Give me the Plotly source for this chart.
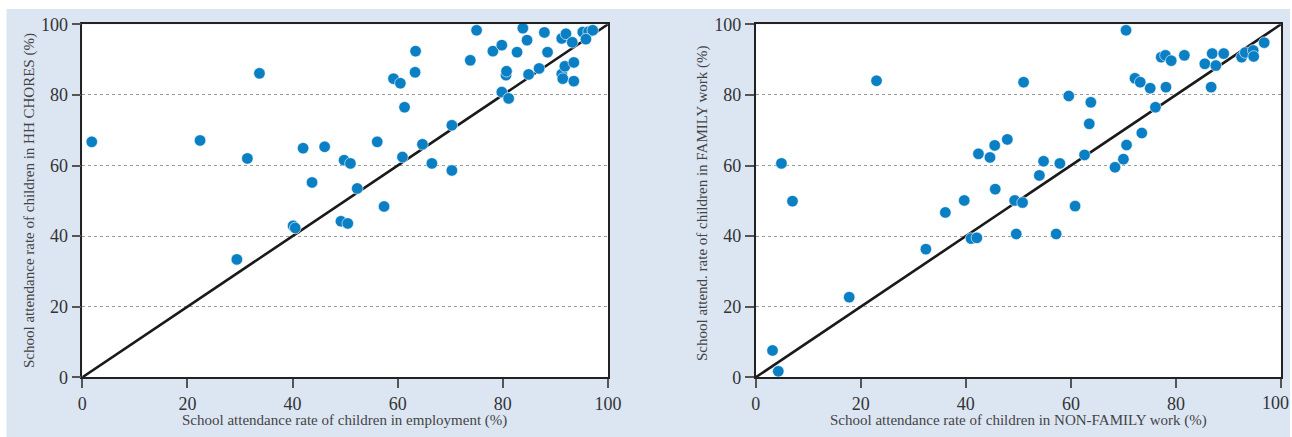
import plotly.graph_objects as go

# School attendance (%) of working children vs. children in HH chores
employment_x = [1.8, 22.4, 29.4, 31.4, 33.7, 40.1, 40.5, 42.0, 43.7, 46.1,
                49.2, 49.8, 50.5, 51.0, 52.3, 56.1, 57.4, 59.2, 60.5, 60.9,
                61.3, 63.3, 63.4, 64.7, 66.5, 70.3, 70.3, 73.8, 75.0, 78.1,
                79.8, 79.8, 80.6, 80.7, 81.1, 82.7, 83.8, 84.6, 84.9, 86.9,
                87.9, 88.5, 91.2, 92.0, 91.2, 91.4, 91.8, 93.2, 93.5, 93.5,
                95.2, 96.3, 97.1, 95.8]
chores_y = [66.7, 67.1, 33.4, 62.0, 86.1, 42.9, 42.3, 64.9, 55.2, 65.3,
            44.2, 61.5, 43.6, 60.6, 53.5, 66.7, 48.4, 84.6, 83.3, 62.4,
            76.5, 86.4, 92.4, 66.0, 60.6, 71.4, 58.6, 89.8, 98.3, 92.4,
            94.1, 80.8, 85.6, 86.7, 79.0, 92.1, 98.9, 95.5, 85.8, 87.5,
            97.7, 92.1, 96.0, 97.3, 85.9, 84.6, 88.1, 94.9, 89.2, 83.9,
            97.8, 97.9, 98.3, 95.8]

# School attendance (%) of children in non-family vs. family work
nonfamily_x = [3.2, 4.3, 4.9, 7.0, 17.8, 23.0, 32.4, 36.1, 39.7, 41.0,
               42.1, 42.4, 44.6, 45.5, 45.6, 47.9, 49.3, 49.6, 50.8, 51.0,
               54.0, 54.8, 57.2, 57.9, 59.6, 60.8, 62.6, 63.5, 63.8, 68.4,
               70.0, 70.5, 70.6, 72.2, 73.2, 73.5, 75.1, 76.1, 77.2, 78.0,
               78.1, 79.1, 81.6, 85.5, 86.7, 86.9, 87.6, 89.1, 92.5, 93.2,
               94.7, 94.8, 96.8]
family_y = [7.6, 1.7, 60.6, 49.9, 22.7, 84.0, 36.3, 46.7, 50.1, 39.3,
            39.5, 63.3, 62.3, 65.7, 53.3, 67.4, 50.1, 40.6, 49.5, 83.6,
            57.2, 61.2, 40.6, 60.6, 79.7, 48.5, 63.0, 71.8, 77.9, 59.5,
            61.8, 98.3, 65.8, 84.7, 83.6, 69.2, 81.9, 76.5, 90.7, 91.2,
            82.2, 89.7, 91.2, 88.8, 82.2, 91.7, 88.3, 91.7, 90.7, 92.0,
            92.6, 90.9, 94.8]

# 45-degree reference line
diag = [0, 100]
tick_vals = [0, 20, 40, 60, 80, 100]
tick_text = ["0", "20", "40", "60", "80", "100"]

left_xtitle = "School attendance rate of children in employment (%)"
left_ytitle = "School attendance rate of children in HH CHORES (%)"
right_xtitle = "School attendance rate of children in NON-FAMILY work (%)"
right_ytitle = "School attend. rate of children in FAMILY work (%)"

W, H = 1292, 437
FONT = "Liberation Serif"
DOT = "#0a7fc4"
BG = "#dce6f3"

fig = go.Figure()

marker = dict(color=DOT, size=11.5, line=dict(color="white", width=0.6))
line = dict(color="#1a1a1a", width=2.6)

fig.add_trace(go.Scatter(x=diag, y=diag, mode="lines", line=line,
                         xaxis="x", yaxis="y", hoverinfo="skip"))
fig.add_trace(go.Scatter(x=employment_x, y=chores_y, mode="markers",
                         marker=marker, xaxis="x", yaxis="y", cliponaxis=False))
fig.add_trace(go.Scatter(x=diag, y=diag, mode="lines", line=line,
                         xaxis="x2", yaxis="y2", hoverinfo="skip"))
fig.add_trace(go.Scatter(x=nonfamily_x, y=family_y, mode="markers",
                         marker=marker, xaxis="x2", yaxis="y2", cliponaxis=False))


def px_x(p):
    return p / W


def px_y(p):
    return (H - p) / H


ytop, ybot = 24.3, 377.3
tick_font = dict(family=FONT, size=18, color="#333")
axis_common = dict(
    range=[0, 100], tickvals=tick_vals, ticktext=tick_text, showline=True,
    linecolor="#222", linewidth=1.6, mirror=True, ticks="outside", ticklen=9,
    tickwidth=1.5, tickcolor="#555", zeroline=False, automargin=False,
    tickfont=tick_font,
)
xaxis_style = dict(axis_common, showgrid=False)
yaxis_style = dict(axis_common, showgrid=True, gridcolor="#9a9a9a",
                   gridwidth=1, griddash="3px,3px")

# the last label of the right-hand x axis sits at the page edge, so it is
# drawn right-aligned to stay fully inside the page
xaxis2_style = dict(xaxis_style, ticktext=tick_text[:-1] + [""])

fig.update_layout(
    width=W, height=H,
    margin=dict(l=0, r=0, t=0, b=0, autoexpand=False),
    paper_bgcolor=BG, plot_bgcolor="white",
    showlegend=False,
    xaxis=dict(xaxis_style, domain=[px_x(82.3), px_x(608)], anchor="y"),
    yaxis=dict(yaxis_style, domain=[px_y(ybot), px_y(ytop)], anchor="x"),
    xaxis2=dict(xaxis2_style, domain=[px_x(755.7), px_x(1281)], anchor="y2"),
    yaxis2=dict(yaxis_style, domain=[px_y(ybot), px_y(ytop)], anchor="x2"),
)

# white page edges around the shaded panel
edges = [
    (-0.01, px_y(9), 1.01, 1.01),
    (-0.01, -0.01, px_x(6.5), 1.01),
    (px_x(1290), -0.01, 1.01, 1.01),
]
for x0, y0, x1, y1 in edges:
    fig.add_shape(type="rect", xref="paper", yref="paper", x0=x0, y0=y0,
                  x1=x1, y1=y1, fillcolor="white", line_width=0, layer="below")

fig.add_annotation(text=tick_text[-1], xref="paper", yref="paper",
                   x=px_x(1291), y=px_y(403), xanchor="right",
                   yanchor="middle", showarrow=False, font=tick_font)

title_font = dict(family=FONT, size=15, color="#444")
annotations = [
    dict(text=left_xtitle, x=px_x(345), y=px_y(420)),
    dict(text=right_xtitle, x=px_x(1018), y=px_y(420)),
    dict(text=left_ytitle, x=px_x(30), y=px_y(201), textangle=-90),
    dict(text=right_ytitle, x=px_x(703), y=px_y(203), textangle=-90),
]
for a in annotations:
    fig.add_annotation(xref="paper", yref="paper", showarrow=False,
                       xanchor="center", yanchor="middle", font=title_font, **a)

fig.write_html("out.html")
